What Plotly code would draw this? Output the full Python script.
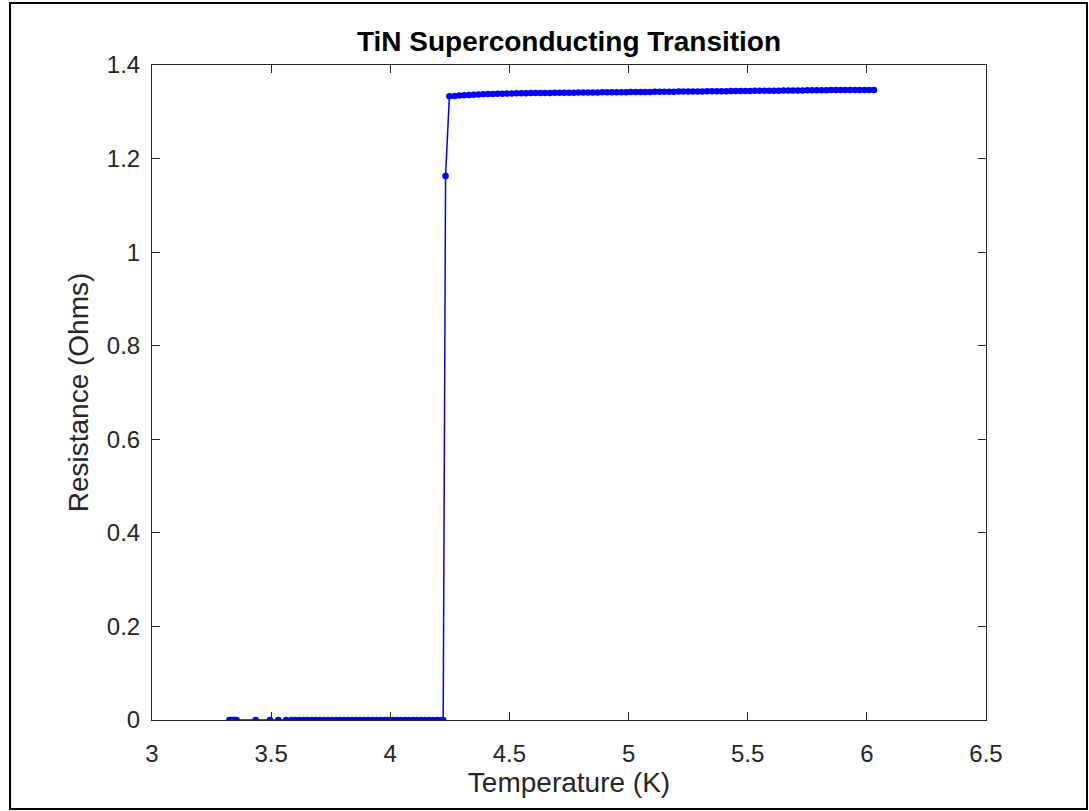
import plotly.graph_objects as go

# Low-temperature (superconducting) branch
T_lo = [3.325, 3.330, 3.335, 3.340, 3.345, 3.350, 3.355, 3.435, 3.495, 3.530, 3.563,
        3.585, 3.602, 3.619, 3.636, 3.653, 3.670, 3.687, 3.704, 3.721, 3.738,
        3.755, 3.772, 3.789, 3.806, 3.823, 3.840, 3.857, 3.874, 3.891, 3.908,
        3.925, 3.942, 3.959, 3.976, 3.993, 4.010, 4.027, 4.044, 4.061, 4.078,
        4.095, 4.112, 4.129, 4.146, 4.163, 4.180, 4.197, 4.214, 4.222]
R_lo = [0, 0, 0, 0, 0, 0, 0, 0, 0, 0, 0,
        0, 0, 0, 0, 0, 0, 0, 0, 0, 0,
        0, 0, 0, 0, 0, 0, 0, 0, 0, 0,
        0, 0, 0, 0, 0, 0, 0, 0, 0, 0,
        0, 0, 0, 0, 0, 0, 0, 0, 0]

# Transition point
T_mid = [4.232]
R_mid = [1.163]

# Normal-state branch
T_hi = [4.248, 4.27, 4.29, 4.31, 4.33, 4.35, 4.37, 4.39, 4.41, 4.43,
        4.45, 4.47, 4.49, 4.51, 4.53, 4.55, 4.57, 4.59, 4.61, 4.63,
        4.65, 4.67, 4.69, 4.71, 4.73, 4.75, 4.77, 4.79, 4.81, 4.83,
        4.85, 4.87, 4.89, 4.91, 4.93, 4.95, 4.97, 4.99, 5.01, 5.03,
        5.05, 5.07, 5.09, 5.11, 5.13, 5.15, 5.17, 5.19, 5.21, 5.23,
        5.25, 5.27, 5.29, 5.31, 5.33, 5.35, 5.37, 5.39, 5.41, 5.43,
        5.45, 5.47, 5.49, 5.51, 5.53, 5.55, 5.57, 5.59, 5.61, 5.63,
        5.65, 5.67, 5.69, 5.71, 5.73, 5.75, 5.77, 5.79, 5.81, 5.83,
        5.85, 5.87, 5.89, 5.91, 5.93, 5.95, 5.97, 5.99, 6.01, 6.03]
R_hi = [1.3330, 1.3340, 1.3348, 1.3355, 1.3360, 1.3365, 1.3370, 1.3374, 1.3378, 1.3381,
        1.3384, 1.3387, 1.3390, 1.3392, 1.3394, 1.3396, 1.3398, 1.3400, 1.3401, 1.3402,
        1.3403, 1.3404, 1.3405, 1.3406, 1.3407, 1.3408, 1.3409, 1.3410, 1.3411, 1.3412,
        1.3413, 1.3414, 1.3415, 1.3416, 1.3417, 1.3418, 1.3419, 1.3420, 1.3421, 1.3422,
        1.3423, 1.3424, 1.3425, 1.3426, 1.3427, 1.3428, 1.3429, 1.3430, 1.3431, 1.3432,
        1.3433, 1.3434, 1.3435, 1.3436, 1.3437, 1.3438, 1.3439, 1.3440, 1.3441, 1.3442,
        1.3443, 1.3444, 1.3445, 1.3446, 1.3447, 1.3448, 1.3449, 1.3450, 1.3451, 1.3452,
        1.3453, 1.3454, 1.3455, 1.3456, 1.3457, 1.3458, 1.3459, 1.3460, 1.3461, 1.3462,
        1.3463, 1.3464, 1.3465, 1.3465, 1.3466, 1.3466, 1.3467, 1.3467, 1.3468, 1.3468]

temperature = T_lo + T_mid + T_hi
resistance = R_lo + R_mid + R_hi

x_ticks = [3, 3.5, 4, 4.5, 5, 5.5, 6, 6.5]
x_labels = ["3", "3.5", "4", "4.5", "5", "5.5", "6", "6.5"]
y_ticks = [0, 0.2, 0.4, 0.6, 0.8, 1.0, 1.2, 1.4]
y_labels = ["0", "0.2", "0.4", "0.6", "0.8", "1", "1.2", "1.4"]

FONT = "Liberation Sans, Arial, Helvetica, sans-serif"
AX = "#262626"

fig = go.Figure()
fig.add_trace(go.Scatter(
    x=temperature, y=resistance, mode="lines+markers",
    line=dict(color="#0000FF", width=1.5),
    marker=dict(color="#0000FF", size=6.5, line=dict(width=0)),
    showlegend=False, hoverinfo="x+y",
))

L, R, T, B = 152, 103, 65, 91
W, H = 1089, 811
pw, ph = W - L - R, H - T - B

def px(xp):
    return (xp - L) / pw

def py(yp):
    return (H - B - yp) / ph

axis_common = dict(
    showline=True, linecolor=AX, linewidth=1, mirror="ticks",
    ticks="inside", ticklen=8, tickwidth=1, tickcolor=AX,
    showgrid=False, zeroline=False,
    tickfont=dict(family=FONT, size=24, color=AX),
    title_font=dict(family=FONT, size=28, color=AX),
)

fig.update_layout(
    width=W, height=H,
    margin=dict(l=L, r=R, t=T, b=B, pad=0),
    paper_bgcolor="white", plot_bgcolor="white",
    title=dict(text="<b>TiN Superconducting Transition</b>",
               x=0.5, xref="paper", y=1 - 41 / H, yanchor="middle",
               font=dict(family=FONT, size=28, color="#000000")),
    xaxis=dict(range=[3, 6.5], tickvals=x_ticks, ticktext=x_labels,
               ticklabelstandoff=12,
               title=dict(text="Temperature (K)", standoff=0), **axis_common),
    yaxis=dict(range=[0, 1.4], tickvals=y_ticks, ticktext=y_labels,
               ticklabelstandoff=6,
               title=dict(text="Resistance (Ohms)", standoff=10), **axis_common),
    shapes=[dict(type="rect", xref="paper", yref="paper",
                 x0=px(10), x1=px(1087), y0=py(809), y1=py(3),
                 line=dict(color="black", width=2), fillcolor="rgba(0,0,0,0)",
                 layer="below")],
)

fig.write_html("out.html")
